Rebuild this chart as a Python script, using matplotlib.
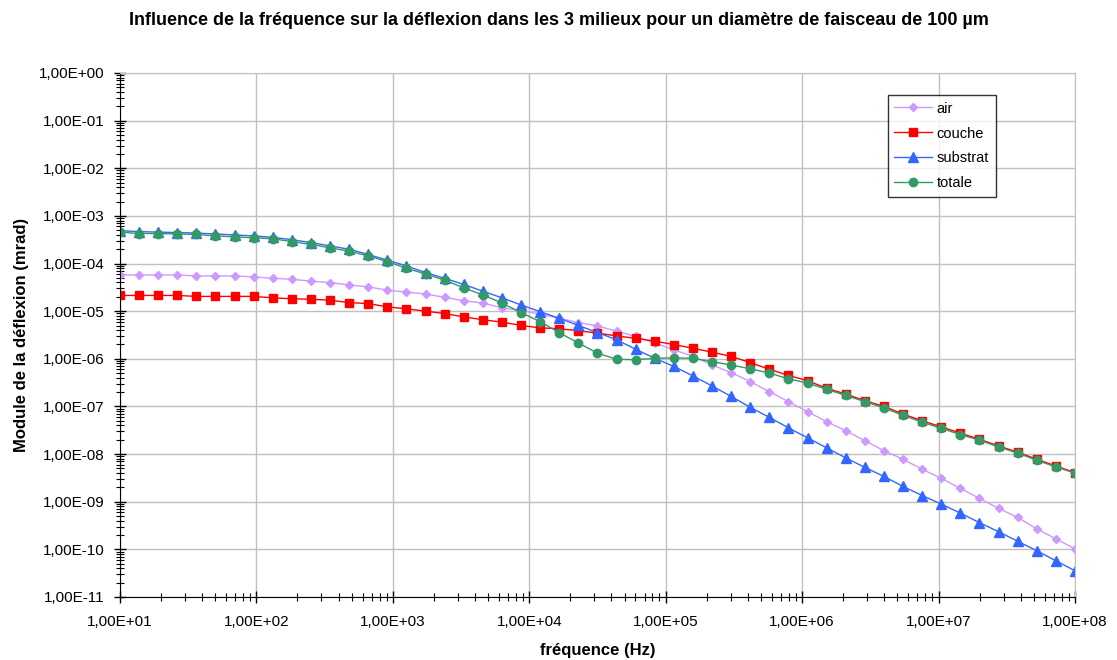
import numpy as np
import matplotlib
matplotlib.use("Agg")
import matplotlib.pyplot as plt
from matplotlib.ticker import LogLocator, FuncFormatter, NullFormatter

plt.rcParams['font.family'] = ['Liberation Sans', 'DejaVu Sans']

# frequencies: 51 points, log-spaced from 1e1 to 1e8 Hz
freq = np.logspace(1, 8, 51)

# log10 of the deflection modulus (mrad)
air_log = [-4.24, -4.24, -4.24, -4.24, -4.26, -4.26, -4.26, -4.28, -4.31, -4.33,
           -4.37, -4.40, -4.45, -4.49, -4.56, -4.60, -4.64, -4.71, -4.78, -4.83,
           -4.93, -4.99, -5.06, -5.15, -5.24, -5.31, -5.42, -5.53, -5.67, -5.81,
           -5.95, -6.13, -6.29, -6.48, -6.69, -6.90, -7.11, -7.32, -7.51, -7.72,
           -7.93, -8.11, -8.32, -8.51, -8.72, -8.93, -9.14, -9.33, -9.57, -9.78,
           -9.99]
couche_log = [-4.67, -4.67, -4.67, -4.67, -4.69, -4.69, -4.69, -4.69, -4.72, -4.74,
              -4.75, -4.77, -4.82, -4.84, -4.91, -4.95, -5.00, -5.05, -5.12, -5.18,
              -5.23, -5.30, -5.35, -5.37, -5.41, -5.46, -5.52, -5.57, -5.63, -5.70,
              -5.78, -5.86, -5.95, -6.08, -6.22, -6.35, -6.46, -6.62, -6.74, -6.88,
              -7.00, -7.16, -7.30, -7.43, -7.56, -7.69, -7.83, -7.96, -8.11, -8.25,
              -8.39]
substrat_log = [-3.31, -3.33, -3.34, -3.35, -3.36, -3.38, -3.40, -3.42, -3.45, -3.50,
                -3.56, -3.63, -3.70, -3.81, -3.93, -4.05, -4.19, -4.31, -4.44, -4.58,
                -4.72, -4.87, -5.01, -5.15, -5.30, -5.45, -5.60, -5.80, -5.99, -6.16,
                -6.36, -6.57, -6.79, -7.02, -7.23, -7.45, -7.66, -7.87, -8.08, -8.28,
                -8.47, -8.68, -8.87, -9.05, -9.24, -9.44, -9.63, -9.83, -10.03, -10.24,
                -10.45]
totale_log = [-3.34, -3.37, -3.37, -3.38, -3.39, -3.42, -3.44, -3.46, -3.48, -3.54,
              -3.60, -3.67, -3.74, -3.84, -3.96, -4.10, -4.22, -4.35, -4.51, -4.66,
              -4.83, -5.03, -5.22, -5.45, -5.67, -5.88, -6.01, -6.02, -5.99, -5.98,
              -5.99, -6.06, -6.13, -6.21, -6.30, -6.42, -6.51, -6.64, -6.77, -6.90,
              -7.03, -7.19, -7.33, -7.46, -7.59, -7.71, -7.85, -7.98, -8.13, -8.27,
              -8.40]

# axis decades
x_decades = [1e1, 1e2, 1e3, 1e4, 1e5, 1e6, 1e7, 1e8]
y_decades = [1e-11, 1e-10, 1e-9, 1e-8, 1e-7, 1e-6, 1e-5, 1e-4, 1e-3, 1e-2, 1e-1, 1e0]

fig = plt.figure(figsize=(11.17, 6.60), dpi=100)
ax = fig.add_axes([0.1074, 0.0955, 0.855, 0.7939])

# series: label, values, colour, marker, marker size
series = [
    ("air", air_log, "#CC99FF", "D", 4.5),
    ("couche", couche_log, "#FF0000", "s", 5.5),
    ("substrat", substrat_log, "#3366FF", "^", 6.5),
    ("totale", totale_log, "#339966", "o", 6),
]
for name, vals, col, mk, ms in series:
    ax.plot(freq, 10.0 ** np.array(vals), color=col, marker=mk, markersize=ms,
            linewidth=1, markeredgecolor=col, label=name)

ax.set_xscale('log')
ax.set_yscale('log')
ax.set_xlim(x_decades[0], x_decades[-1])
ax.set_ylim(y_decades[0], y_decades[-1])

sci = FuncFormatter(lambda v, p: ("%.2E" % v).replace('.', ','))
ax.set_xticks(x_decades)
ax.set_yticks(y_decades)
ax.xaxis.set_minor_locator(LogLocator(base=10, subs=np.arange(2, 10), numticks=100))
ax.yaxis.set_minor_locator(LogLocator(base=10, subs=np.arange(2, 10), numticks=100))
ax.xaxis.set_major_formatter(sci)
ax.yaxis.set_major_formatter(sci)
ax.xaxis.set_minor_formatter(NullFormatter())
ax.yaxis.set_minor_formatter(NullFormatter())

ax.tick_params(which='major', direction='inout', length=8, width=1, labelsize=11)
ax.tick_params(axis='y', which='major', pad=7)
ax.tick_params(axis='x', which='major', pad=9)
ax.tick_params(which='minor', direction='inout', length=6, width=0.8)
ax.tick_params(axis='y', which='both', right=False)
ax.tick_params(axis='x', which='both', top=False)

ax.grid(True, which='major', color='#C0C0C0', linewidth=1)
ax.set_axisbelow(True)
for s in ['top', 'right']:
    ax.spines[s].set_color('#C0C0C0')
for s in ['left', 'bottom']:
    ax.spines[s].set_color('black')

ax.set_xlabel('fréquence (Hz)', fontsize=12, fontweight='bold', labelpad=10)
ax.set_ylabel('Module de la déflexion (mrad)', fontsize=12, fontweight='bold', labelpad=7)
fig.suptitle('Influence de la fréquence sur la déflexion dans les 3 milieux pour un diamètre de faisceau de 100 µm',
             fontsize=13, fontweight='bold', y=0.982)

leg = ax.legend(loc='upper left', bbox_to_anchor=(0.804, 0.958), fontsize=10.5,
                frameon=True, fancybox=False, edgecolor='black', borderpad=0.45,
                labelspacing=0.75, handlelength=2.6, handletextpad=0.3,
                borderaxespad=0)
leg.get_frame().set_linewidth(1)

fig.savefig('out.png', dpi=100)
